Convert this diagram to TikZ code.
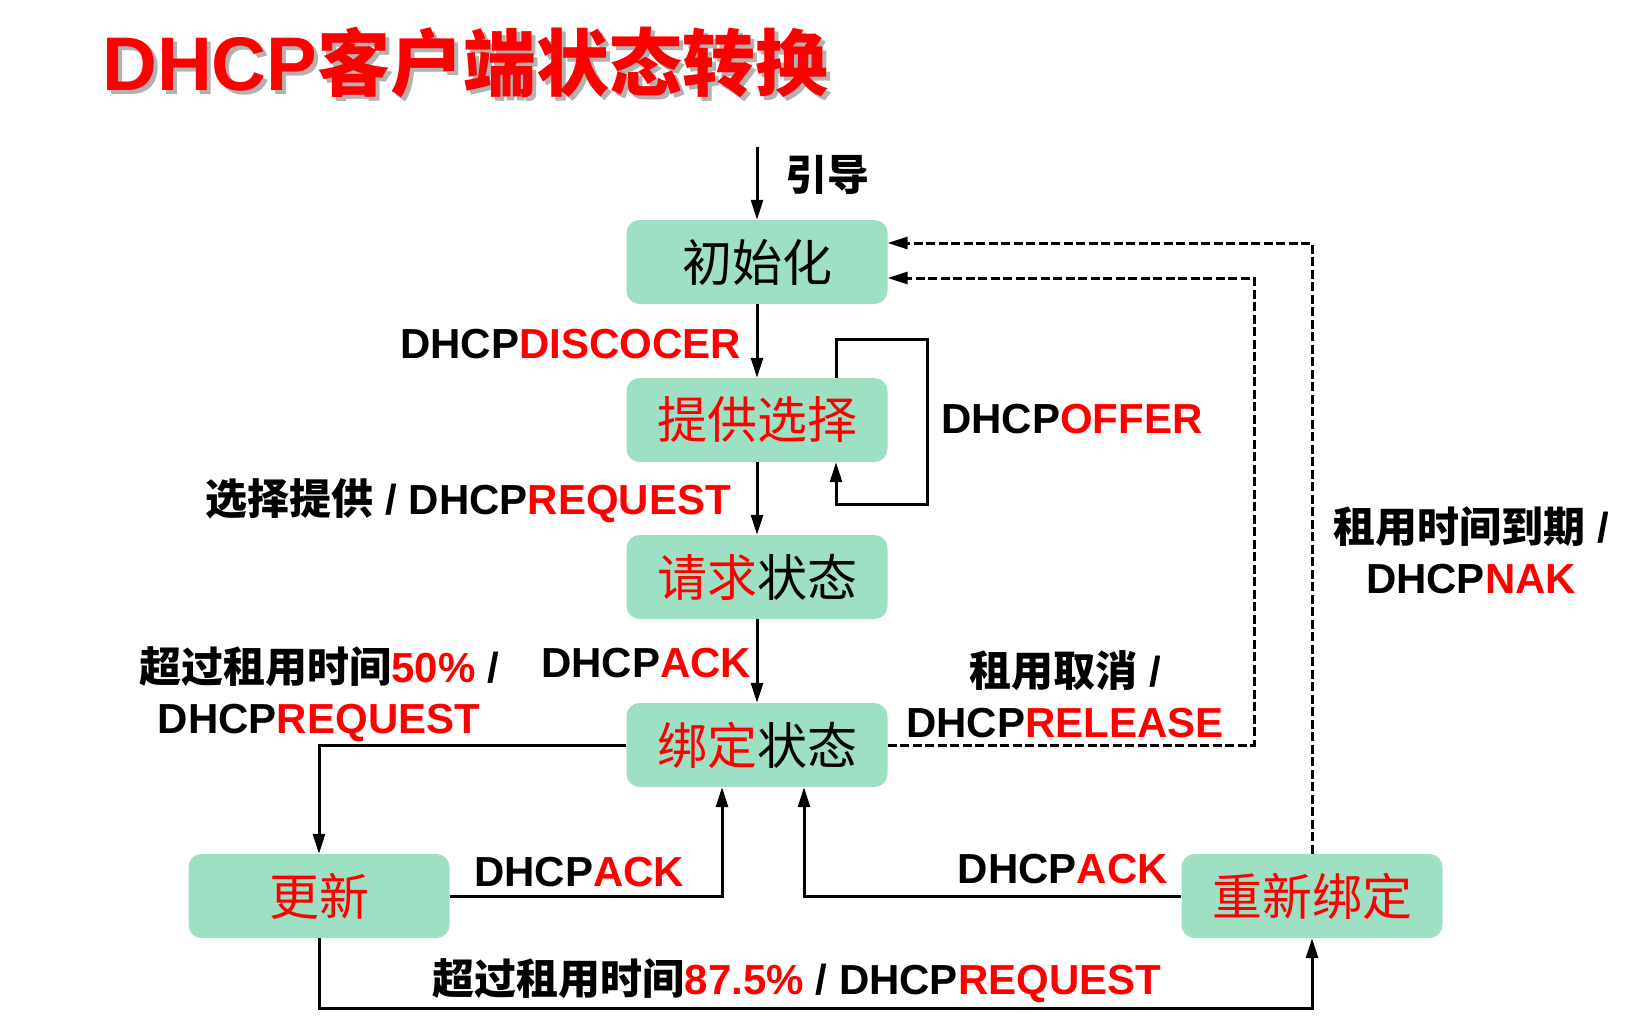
\documentclass[tikz,border=0pt]{standalone}
\usepackage{fontspec}
\setmainfont{Liberation Sans}
\newfontfamily\cjk{Noto Sans CJK SC}
\usetikzlibrary{arrows.meta, positioning, calc}
\definecolor{stategreen}{HTML}{9DE0C3}
\newcommand{\hl}[1]{\textcolor{red}{#1}}
\newcommand{\zh}[1]{{\cjk #1}}

\begin{document}
\begin{tikzpicture}[x=1pt, y=-1pt,
  state/.style={rounded corners=13pt, fill=stategreen, minimum width=261pt, minimum height=84pt, inner sep=0pt, font=\cjk\fontsize{50}{56}\selectfont},
  lbl/.style={inner sep=0pt, font=\bfseries\fontsize{42}{51}\selectfont},
  flow/.style={line width=3pt, -{Triangle[length=20pt, width=12pt]}},
  back/.style={flow, dash pattern=on 9pt off 3.5pt}]
  \useasboundingbox (0,0) rectangle (1645,1031);

  % === TITLE ===
  \node[anchor=west, inner sep=0pt, text=black!30, font=\bfseries\fontsize{73}{80}\selectfont] (titleshadow) at (106,67)
    {{\fontsize{76}{80}\selectfont DHCP}\zh{客户端状态转换}};
  \node[anchor=west, inner sep=0pt, text=red, font=\bfseries\fontsize{73}{80}\selectfont] (title) at (102,63)
    {{\fontsize{76}{80}\selectfont DHCP}\zh{客户端状态转换}};

  % === STATES ===
  \node[state] (init)    at (757,262)  {初始化};
  \node[state] (offer)   at (757,420)  {\hl{提供选择}};
  \node[state] (request) at (757,577)  {\hl{请求}状态};
  \node[state] (bound)   at (757,745)  {\hl{绑定}状态};
  \node[state] (renew)   at (319,896)  {\hl{更新}};
  \node[state] (rebind)  at (1312,896) {\hl{重新绑定}};

  % === MAIN PATH ===
  \coordinate (boot) at (757,147);
  \draw[flow] (boot) -- (init);
  \draw[flow] (init) -- (offer);
  \draw[flow] (offer) -- (request);
  \draw[flow] (request) -- (bound);

  % self loop on offer
  \coordinate (loopT) at (927,339);
  \coordinate (loopB) at (927,504);
  \draw[flow] ($(offer.north)+(79,0)$) |- (loopT) -- (loopB) -| ($(offer.south)+(79,0)$);

  % renew / rebind
  \coordinate (floor) at (0,1008);
  \draw[flow] (bound.west) -| (renew.north);
  \draw[flow] (renew.east) -| ($(bound.south)+(-35,0)$);
  \draw[flow] (rebind.west) -| ($(bound.south)+(47,0)$);
  \draw[flow] (renew.south) -- (renew.south |- floor) -| (rebind.south);

  % back to init (dashed)
  \coordinate (relR) at (1254,278);
  \coordinate (nakT) at (1312,243);
  \draw[back] (bound.east) -| (relR) -- (init.east |- relR);
  \draw[back] (rebind.north) |- (init.east |- nakT);

  % === LABELS ===
  \node[lbl, anchor=west] (bootlbl) at (785,175) {\zh{引导}};
  \node[lbl, anchor=east] (discover) at (741,344) {DHCP\hl{DISCOCER}};
  \node[lbl, anchor=west] (offerlbl) at (941,419) {DHCP\hl{OFFER}};
  \node[lbl, anchor=east] (select) at (731,501) {\zh{选择提供} / DHCP\hl{REQUEST}};
  \node[lbl, anchor=west] (acklbl) at (541,663) {DHCP\hl{ACK}};
  \node[lbl, align=center] (halflbl) at (319,694) {\zh{超过租用时间}\hl{50\%} /\\DHCP\hl{REQUEST}};
  \node[lbl, align=center] (release) at (1065,694) {\zh{租用取消} /\\DHCP\hl{RELEASE}};
  \node[lbl, align=center] (nak) at (1471,550) {\zh{租用时间到期} /\\DHCP\hl{NAK}};
  \node[lbl, anchor=west] (renewack) at (474,872) {DHCP\hl{ACK}};
  \node[lbl, anchor=east] (rebindack) at (1168,869) {DHCP\hl{ACK}};
  \node[lbl] (expire) at (797,981) {\zh{超过租用时间}\hl{87.5\%} / DHCP\hl{REQUEST}};
\end{tikzpicture}
\end{document}
